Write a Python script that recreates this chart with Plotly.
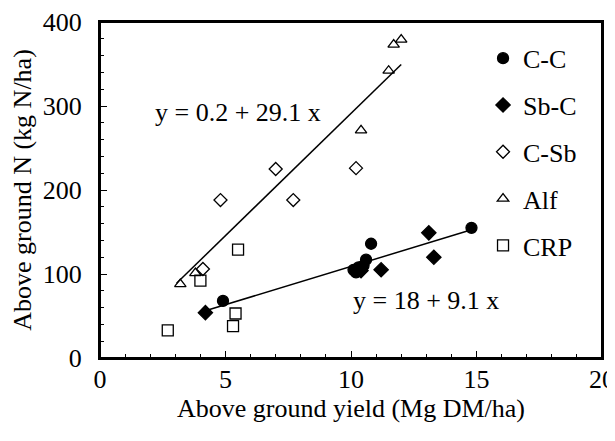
import plotly.graph_objects as go

# Data
cc_x = [4.9, 10.1, 10.2, 10.3, 10.5, 10.6, 10.8, 14.8]
cc_y = [68, 105, 102, 108, 110, 117, 136, 155]
sbc_x = [4.2, 10.4, 11.2, 13.1, 13.3]
sbc_y = [54, 104, 105, 149, 120]
csb_x = [4.1, 4.8, 7.0, 7.7, 10.2]
csb_y = [106, 188, 225, 188, 226]
alf_x = [3.2, 3.8, 10.4, 11.5, 11.7, 12.0]
alf_y = [88, 101, 271, 342, 373, 379]
crp_x = [2.7, 4.0, 5.3, 5.4, 5.5]
crp_y = [33, 92, 38, 53, 129]

# Regression lines: y = a + b x
upper_a, upper_b, upper_range = 0.2, 29.1, [3.05, 12.0]
lower_a, lower_b, lower_range = 18.0, 9.1, [4.2, 14.8]

FONT = "Liberation Serif, Times New Roman, serif"
FS = 26

fig = go.Figure()

for xr, a, b in [(upper_range, upper_a, upper_b), (lower_range, lower_a, lower_b)]:
    fig.add_trace(go.Scatter(x=xr, y=[a + b * v for v in xr], mode="lines",
                             line=dict(color="black", width=1.5),
                             showlegend=False, hoverinfo="skip"))

series = [
    ("C-C", cc_x, cc_y, "circle", 11),
    ("Sb-C", sbc_x, sbc_y, "diamond", 11),
    ("C-Sb", csb_x, csb_y, "diamond-open", 10),
    ("Alf", alf_x, alf_y, "triangle-up-open", 10),
    ("CRP", crp_x, crp_y, "square-open", 11),
]
for name, xs, ys, sym, sz in series:
    fig.add_trace(go.Scatter(x=xs, y=ys, mode="markers", name=name,
                             legendgroup=name,
                             marker=dict(symbol=sym, size=sz, color="black",
                                         line=dict(color="black", width=1.3))))

fig.add_annotation(x=5.48, y=292, text="y = 0.2 + 29.1 x", showarrow=False,
                   font=dict(family=FONT, size=FS, color="black"))
fig.add_annotation(x=13.0, y=68, text="y = 18 + 9.1 x", showarrow=False,
                   font=dict(family=FONT, size=FS, color="black"))

# frame around the plotting area
fig.add_shape(type="rect", xref="paper", yref="paper", x0=0, y0=0, x1=1, y1=1,
              line=dict(color="black", width=2), layer="above")

# page body has an 8px default margin, so the figure is sized to fit the window
fig.update_layout(
    width=607, height=433,
    margin=dict(l=92, r=13, t=14, b=83),
    plot_bgcolor="white", paper_bgcolor="white",
    font=dict(family=FONT, size=FS, color="black"),
    legend=dict(x=0.763, y=0.962, xanchor="left", yanchor="top",
                font=dict(family=FONT, size=FS), tracegroupgap=10,
                bgcolor="rgba(0,0,0,0)", itemwidth=30),
    xaxis=dict(range=[0, 20], dtick=5, showgrid=False, zeroline=False,
               showline=True, linecolor="black", linewidth=2, mirror=True,
               ticks="inside", ticklen=7, tickcolor="black", automargin=False,
               ticklabeloverflow="allow",
               minor=dict(dtick=1, ticks="inside", ticklen=4, tickcolor="black"),
               title=dict(text="Above ground yield (Mg DM/ha)", standoff=2,
                          font=dict(family=FONT, size=FS)),
               tickfont=dict(family=FONT, size=FS), ticklabelstandoff=-3),
    yaxis=dict(range=[0, 400], dtick=100, showgrid=False, zeroline=False,
               showline=True, linecolor="black", linewidth=2, mirror=True,
               ticks="inside", ticklen=7, tickcolor="black", automargin=False,
               ticklabeloverflow="allow",
               minor=dict(dtick=20, ticks="inside", ticklen=4, tickcolor="black"),
               title=dict(text="Above ground N (kg N/ha)", standoff=18,
                          font=dict(family=FONT, size=FS)),
               tickfont=dict(family=FONT, size=FS), ticklabelstandoff=11),
)

fig.write_html("out.html")
